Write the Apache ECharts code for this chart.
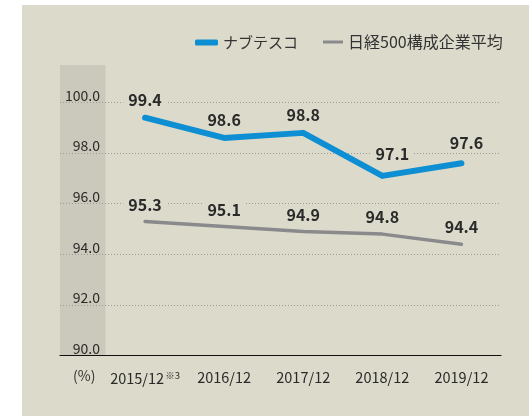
<!DOCTYPE html>
<html>
<head>
<meta charset="utf-8">
<script src="https://cdn.jsdelivr.net/npm/echarts@6/dist/echarts.min.js"></script>
<style>
  html, body { margin: 0; padding: 0; background: #fff; }
  #chart { width: 529px; height: 416px; }
</style>
</head>
<body>
<div id="chart"></div>
<script>
var categories = ['2015/12', '2016/12', '2017/12', '2018/12', '2019/12'];
var nabtesco = [99.4, 98.6, 98.8, 97.1, 97.6];
var nikkei500 = [95.3, 95.1, 94.9, 94.8, 94.4];
var seriesNames = ['ナブテスコ', '日経500構成企業平均'];
var yMin = 90, yMax = 100, yStep = 2;

var font = '"Noto Sans CJK JP", "Noto Sans", sans-serif';
var top0 = 102.5, bottom0 = 60.4;
var blue = '#0e8fd3', gray = '#8a8a8c', panel = '#dcdacb';

var chart = echarts.init(document.getElementById('chart'));

function valueLabel(dist) {
    return {
        show: true, position: 'top', distance: dist,
        fontSize: 16, fontWeight: 'bold', color: '#2a2a2a', fontFamily: font,
        backgroundColor: panel, padding: [0, 5],
        formatter: function (p) { return p.value.toFixed(1); }
    };
}

// the last two ナブテスコ labels sit a little off the point in the original
function blueLabelLayout(params) {
    if (params.dataIndex === 3) return { dx: 10, dy: -4, hideOverlap: false };
    if (params.dataIndex === 4) return { dx: 5, dy: -2, hideOverlap: false };
    return { hideOverlap: false };
}

var option = {
    animation: false,
    textStyle: { fontFamily: font },
    graphic: [
        { type: 'rect', z: -10, shape: { x: 22, y: 5, width: 507, height: 411 }, style: { fill: panel } },
        { type: 'rect', z: -9, shape: { x: 60, y: 65, width: 45.5, height: 290.6 }, style: { fill: '#cbc9bb' } },
        { type: 'text', left: 73, top: 369, style: { text: '(%)', fill: '#333', font: '14px ' + font } }
    ],
    legend: [{
        left: 190, top: 30,
        itemWidth: 23, itemHeight: 6,
        icon: 'roundRect',
        textStyle: { fontSize: 15, color: '#333', fontFamily: font },
        data: [{ name: seriesNames[0], itemStyle: { color: blue, opacity: 1 } }]
    }, {
        left: 318, top: 29,
        itemWidth: 20, itemHeight: 3,
        icon: 'rect',
        textStyle: { fontSize: 16, color: '#333', fontFamily: font },
        data: [{ name: seriesNames[1], itemStyle: { color: gray, opacity: 1 } }]
    }],
    grid: [
        { left: 60, right: 28, top: top0, bottom: bottom0 },
        { left: 105.5, right: 28, top: top0, bottom: bottom0 }
    ],
    xAxis: [{
        gridIndex: 0, type: 'value', min: 0, max: 1,
        axisLine: { show: true, onZero: false, lineStyle: { color: '#111', width: 1.2 } },
        axisTick: { show: false }, axisLabel: { show: false }, splitLine: { show: false }
    }, {
        gridIndex: 1, type: 'category', data: categories, boundaryGap: true,
        axisLine: { show: false }, axisTick: { show: false },
        axisLabel: {
            interval: 0, margin: 15, fontSize: 14.5, color: '#2a2a2a', fontFamily: font,
            formatter: function (v, i) { return i === 0 ? v + '{sup|※3}' : v; },
            rich: { sup: { fontSize: 9.5, color: '#2a2a2a', verticalAlign: 'top', padding: [0, 0, 7, 1] } }
        }
    }],
    yAxis: [{
        gridIndex: 0, type: 'value', min: yMin, max: yMax, interval: yStep,
        axisLine: { show: false }, axisTick: { show: false },
        axisLabel: {
            inside: true, align: 'right', margin: 40, verticalAlign: 'bottom',
            fontSize: 14, color: '#2a2a2a', fontFamily: font,
            formatter: function (v) { return v.toFixed(1); }
        },
        splitLine: { lineStyle: { color: '#999', type: [1, 2], width: 1 } }
    }, {
        gridIndex: 1, type: 'value', min: yMin, max: yMax, show: false
    }],
    series: [{
        name: seriesNames[0], type: 'line', xAxisIndex: 1, yAxisIndex: 1,
        data: nabtesco, symbol: 'circle', symbolSize: 2, showSymbol: true, z: 3,
        lineStyle: { color: blue, width: 6, cap: 'round', join: 'round' },
        itemStyle: { color: blue },
        label: valueLabel(9),
        labelLayout: blueLabelLayout
    }, {
        name: seriesNames[1], type: 'line', xAxisIndex: 1, yAxisIndex: 1,
        data: nikkei500, symbol: 'circle', symbolSize: 2, showSymbol: true, z: 2,
        lineStyle: { color: gray, width: 3.5, cap: 'round', join: 'round' },
        itemStyle: { color: gray },
        label: valueLabel(8),
        labelLayout: { hideOverlap: false }
    }]
};

chart.setOption(option);
</script>
</body>
</html>
